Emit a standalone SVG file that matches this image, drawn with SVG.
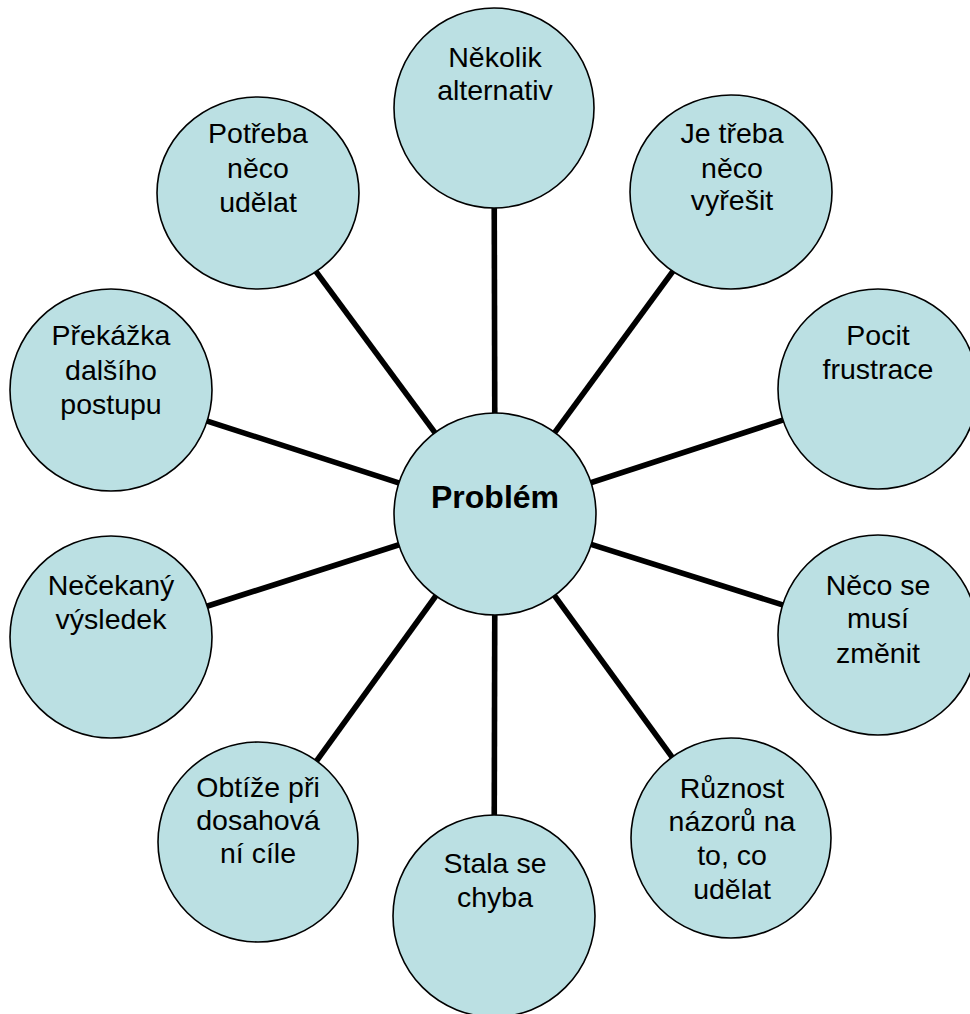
<svg xmlns="http://www.w3.org/2000/svg" width="970" height="1014" viewBox="0 0 970 1014">
<style>
.n{fill:#BBE0E3;stroke:#000;stroke-width:1.6}
.t{font-family:"Liberation Sans",Arial,sans-serif;font-size:28.5px;fill:#000;text-anchor:middle}
.b{font-family:"Liberation Sans",Arial,sans-serif;font-size:32px;font-weight:bold;fill:#000;text-anchor:middle}
.c line{stroke:#000;stroke-width:5.6}
</style>
<rect width="970" height="1014" fill="#fff"/>
<g id="connectors" class="c">
<line x1="495" y1="514" x2="494" y2="108"/>
<line x1="495" y1="514" x2="258" y2="193"/>
<line x1="495" y1="514" x2="731" y2="192"/>
<line x1="495" y1="514" x2="111" y2="390"/>
<line x1="495" y1="514" x2="878" y2="389"/>
<line x1="495" y1="514" x2="111" y2="637"/>
<line x1="495" y1="514" x2="878" y2="635"/>
<line x1="495" y1="514" x2="258" y2="842"/>
<line x1="495" y1="514" x2="731" y2="838"/>
<line x1="495" y1="514" x2="494" y2="916"/>
</g>
<g id="nekolik"><circle class="n" cx="494" cy="108" r="100"/><text class="t" x="495" y="67">Několik</text><text class="t" x="495" y="100">alternativ</text></g>
<g id="potreba"><ellipse class="n" cx="258" cy="193" rx="101" ry="96"/><text class="t" x="258" y="143">Potřeba</text><text class="t" x="258" y="178">něco</text><text class="t" x="258" y="212">udělat</text></g>
<g id="jetreba"><ellipse class="n" cx="731" cy="192" rx="101" ry="97"/><text class="t" x="732" y="143">Je třeba</text><text class="t" x="732" y="178">něco</text><text class="t" x="732" y="210">vyřešit</text></g>
<g id="prekazka"><circle class="n" cx="111" cy="390" r="101"/><text class="t" x="111" y="345">Překážka</text><text class="t" x="111" y="380">dalšího</text><text class="t" x="111" y="414">postupu</text></g>
<g id="pocit"><circle class="n" cx="878" cy="389" r="100"/><text class="t" x="878" y="345">Pocit</text><text class="t" x="878" y="379">frustrace</text></g>
<g id="problem"><circle class="n" cx="495" cy="514" r="101"/><text class="b" x="495" y="508">Problém</text></g>
<g id="necekany"><circle class="n" cx="111" cy="637" r="101"/><text class="t" x="111" y="595">Nečekaný</text><text class="t" x="111" y="629">výsledek</text></g>
<g id="necosemusi"><circle class="n" cx="878" cy="635" r="100"/><text class="t" x="878" y="595">Něco se</text><text class="t" x="878" y="628">musí</text><text class="t" x="878" y="663">změnit</text></g>
<g id="obtize"><circle class="n" cx="258" cy="842" r="100"/><text class="t" x="258" y="797">Obtíže při</text><text class="t" x="258" y="830">dosahová</text><text class="t" x="258" y="863">ní cíle</text></g>
<g id="stala"><circle class="n" cx="494" cy="916" r="101"/><text class="t" x="495" y="873">Stala se</text><text class="t" x="495" y="907">chyba</text></g>
<g id="ruznost"><circle class="n" cx="731" cy="838" r="100"/><text class="t" x="732" y="798">Různost</text><text class="t" x="732" y="831">názorů na</text><text class="t" x="732" y="865">to, co</text><text class="t" x="732" y="899">udělat</text></g>
</svg>
